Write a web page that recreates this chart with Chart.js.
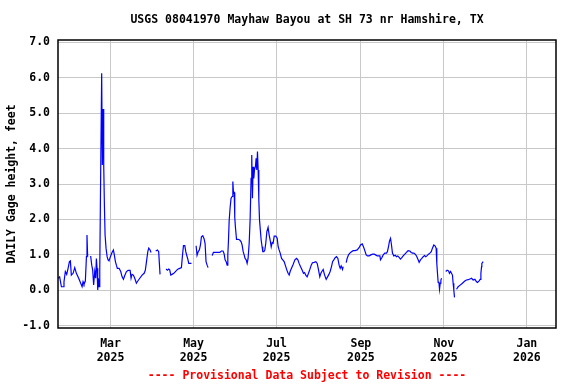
<!DOCTYPE html>
<html>
<head>
<meta charset="utf-8">
<script src="https://cdn.jsdelivr.net/npm/chart.js@4.4.1/dist/chart.umd.min.js"></script>
<style>
  html, body { margin: 0; padding: 0; background: #ffffff; }
  #wrap { width: 576px; height: 384px; }
</style>
</head>
<body>
<div id="wrap"><canvas id="gage-chart" width="576" height="384"></canvas></div>
<script>
const STATION_TITLE = "USGS 08041970 Mayhaw Bayou at SH 73 nr Hamshire, TX";
const Y_LABEL = "DAILY Gage height, feet";
const FOOTER_TEXT = "---- Provisional Data Subject to Revision ----";
const FONT = "bold 11.5px 'DejaVu Sans Mono', 'Liberation Mono', monospace";

// day of 2025 (Jan 1 = 0); a null gage value marks a gap in the record
const obsDay = [
  20.4, 21.6, 22.9, 24.1, 24.8, 25.8, 26.8, 27.8, 28.8, 29.5, 30.2, 31.5, 32.7, 33.9, 35.1, 35.9,
  38.1, 38.8, 39.5, 40.5, 41.3, 41.7, 42.2,
  43.3,
  44.4, 45.2, 45.9, 46.6, 47.4, 48.1, 48.6, 49.1, 49.6, 50.1, 50.6, 51.1, 51.8, 52.5, 53.0, 53.5,
  54.0, 54.5, 55.0, 55.7, 56.5, 57.2, 57.9, 58.9, 60.1, 61.1, 61.6, 62.6, 63.3, 64.0, 65.3, 66.5,
  67.5, 68.5, 69.4, 70.7, 71.9, 73.4, 74.1, 74.8, 75.8, 76.8, 78.0, 79.2, 80.5, 82.2, 83.7, 84.6,
  85.6, 86.4, 87.1, 88.1, 88.8,
  90.5,
  92.2, 93.5, 94.4, 94.9, 95.4,
  97.6,
  99.8, 100.8, 101.8, 102.5, 103.3, 104.2, 105.5, 106.7, 107.7, 108.7, 109.9, 111.1, 111.8, 112.6,
  113.6, 114.3, 115.0, 115.8, 116.5, 117.2, 118.5,
  120.2,
  121.9, 122.6, 123.4, 124.3, 125.1, 125.8, 126.8, 127.8, 128.5, 129.2, 130.0, 130.7,
  132.2,
  133.7, 134.6, 136.1, 138.1, 139.3, 140.5, 141.7, 142.5, 143.2, 144.0, 144.7, 145.2, 145.7, 146.2,
  146.9, 147.6, 148.4, 148.9, 149.4, 149.9, 150.3, 150.8, 151.6, 152.8, 154.0, 155.0, 155.7, 156.5,
  157.2, 157.9, 158.7, 159.4, 160.1, 160.9, 161.6, 162.3, 162.8, 163.3, 163.8, 164.3, 164.8, 165.5,
  166.0, 166.5, 167.0, 167.5, 168.0, 168.5, 169.0, 169.7, 170.4, 170.9, 171.7, 172.4, 173.1, 173.9,
  174.8, 175.6, 176.3, 177.1, 177.8, 178.5, 179.3, 180.5, 181.5, 182.2, 182.9, 183.7, 184.7, 185.6,
  186.6, 187.6, 188.6, 189.5, 190.3, 191.0, 192.0, 193.2, 194.5, 195.7, 196.7, 197.6, 198.6, 199.8,
  200.8, 201.6, 202.5, 203.5, 204.5, 205.5, 206.5, 207.4, 208.7, 209.9, 210.9, 211.9, 212.8, 213.6,
  214.3, 215.3, 216.0, 216.8, 217.5, 218.5, 219.5, 220.4, 221.4, 222.2, 223.1, 224.1, 225.1, 226.1,
  227.0, 227.8, 228.5, 229.5, 230.0,
  231.1,
  232.2, 232.9, 233.9, 234.9, 236.1, 237.3, 238.8, 240.3, 241.8, 242.7, 244.0, 244.9, 245.9, 246.9,
  247.9, 249.1, 250.3, 251.6, 252.8, 253.8, 255.0, 257.0, 257.4, 258.4, 259.4, 260.6, 261.8, 262.5,
  263.3, 264.0, 264.8, 265.5, 266.2, 267.2, 268.2, 269.2, 270.1, 271.1, 272.1, 273.1, 274.1, 275.3,
  276.5, 277.7, 279.0, 280.0, 280.9, 281.9, 282.9, 283.9, 284.9, 285.8, 286.8, 287.8, 288.8, 289.8,
  290.7, 291.7, 292.7, 293.7, 294.7, 295.6, 296.6, 297.6, 298.3, 298.8, 299.3, 299.8, 300.3, 300.8,
  301.3, 301.8, 302.3,
  303.8,
  305.4, 306.4, 307.4, 308.1, 308.9, 309.6, 310.3, 310.8, 311.3, 311.8,
  312.5,
  313.3, 314.5, 315.7, 317.0, 318.2, 319.4, 320.6, 321.9, 323.1, 324.3, 325.5, 326.8, 328.0, 328.7,
  329.7, 330.7, 331.2, 331.7, 331.9, 332.9
];

const gageFt = [
  0.34, 0.38, 0.10, 0.10, 0.24, 0.53, 0.45, 0.62, 0.81, 0.83, 0.43, 0.48, 0.64, 0.48, 0.38, 0.31,
  0.10, 0.24, 0.17, 0.26, 0.95, 1.56, 0.95,
  null,
  0.97, 0.71, 0.57, 0.15, 0.53, 0.34, 0.90, 0.62, 0.01, 0.34, 0.10, 0.62, 3.45, 6.13, 3.54, 5.12,
  3.54, 2.41, 1.56, 1.19, 0.95, 0.86, 0.83, 0.95, 1.07, 1.14, 1.04, 0.81, 0.71, 0.62, 0.62, 0.53,
  0.38, 0.31, 0.41, 0.53, 0.56, 0.56, 0.34, 0.45, 0.43, 0.34, 0.20, 0.27, 0.34, 0.43, 0.48, 0.57,
  0.86, 1.09, 1.19, 1.14, 1.07,
  null,
  1.11, 1.14, 1.09, 0.76, 0.45,
  null,
  0.60, 0.57, 0.60, 0.58, 0.43, 0.45, 0.48, 0.53, 0.57, 0.60, 0.62, 0.64, 0.95, 1.26,
  1.26, 1.09, 0.99, 0.88, 0.76, 0.76, 0.76,
  null,
  1.26, 0.99, 1.09, 1.14, 1.28, 1.51, 1.54, 1.45, 1.32, 0.81, 0.71, 0.64,
  null,
  0.98, 1.07, 1.07, 1.07, 1.07, 1.11, 1.11, 1.03, 0.86, 0.81, 0.71, 1.00, 1.42, 1.97,
  2.34, 2.60, 2.65, 3.07, 2.74, 2.76, 2.06, 1.78, 1.44, 1.44, 1.42, 1.37, 1.28, 1.09,
  1.00, 0.90, 0.86, 0.76, 0.90, 1.33, 2.00, 3.16, 3.82, 2.60, 3.49, 3.16, 3.40, 3.49,
  3.73, 3.40, 3.92, 3.40, 2.55, 1.99, 1.75, 1.42, 1.23, 1.09, 1.09, 1.14, 1.33, 1.66,
  1.78, 1.56, 1.42, 1.23, 1.35, 1.33, 1.53, 1.53, 1.47, 1.23, 1.14, 1.05, 0.90, 0.86,
  0.81, 0.69, 0.57, 0.48, 0.43, 0.53, 0.62, 0.73, 0.86, 0.90, 0.86, 0.76, 0.67, 0.57,
  0.48, 0.50, 0.43, 0.38, 0.48, 0.59, 0.71, 0.78, 0.79, 0.81, 0.76, 0.57, 0.38, 0.48,
  0.53, 0.59, 0.48, 0.38, 0.31, 0.38, 0.45, 0.53, 0.67, 0.81, 0.86, 0.92, 0.95, 0.90,
  0.71, 0.62, 0.69, 0.59, 0.67,
  null,
  0.78, 0.90, 1.00, 1.05, 1.09, 1.12, 1.12, 1.14, 1.21, 1.28, 1.31, 1.23, 1.12, 1.00,
  0.97, 0.97, 1.00, 1.02, 1.02, 1.00, 0.97, 0.97, 0.86, 0.92, 1.00, 1.05, 1.05, 1.09,
  1.23, 1.39, 1.47, 1.28, 1.05, 0.97, 0.99, 0.95, 0.97, 0.93, 0.88, 0.92, 0.97, 1.02,
  1.07, 1.12, 1.11, 1.07, 1.05, 1.05, 1.02, 0.97, 0.88, 0.79, 0.86, 0.90, 0.95, 0.98,
  0.95, 0.98, 1.02, 1.05, 1.09, 1.19, 1.28, 1.25, 1.19, 0.76, 0.48, 0.22, 0.24, 0.03,
  0.20, 0.29, 0.34,
  null,
  0.53, 0.57, 0.55, 0.48, 0.53, 0.48, 0.43, 0.20, 0.01, -0.20,
  null,
  0.03, 0.10, 0.14, 0.18, 0.22, 0.26, 0.29, 0.30, 0.32, 0.34, 0.29, 0.31, 0.24, 0.22,
  0.26, 0.31, 0.48, 0.67, 0.76, 0.81
];

// x axis: first of the month, as day of 2025
const tickDays = [59, 120, 181, 243, 304, 365];
const tickMonths = ["Mar", "May", "Jul", "Sep", "Nov", "Jan"];
const tickYears = ["2025", "2025", "2025", "2025", "2025", "2026"];
const yTicks = [-1, 0, 1, 2, 3, 4, 5, 6, 7];

const points = obsDay.map((d, i) => ({ x: d, y: gageFt[i] }));

// frame, title, axis label and footer drawn straight on the canvas
const usgsDecor = {
  id: "usgsDecor",
  afterDraw(chart) {
    const { ctx, chartArea: a } = chart;
    const midX = (a.left + a.right) / 2;
    ctx.save();
    ctx.strokeStyle = "#000000";
    ctx.lineWidth = 1.5;
    ctx.strokeRect(a.left, a.top, a.right - a.left, a.bottom - a.top);

    ctx.font = FONT;
    ctx.textAlign = "center";
    ctx.textBaseline = "middle";
    ctx.fillStyle = "#000000";
    ctx.fillText(STATION_TITLE, midX, 20);

    ctx.fillStyle = "#ff0000";
    ctx.fillText(FOOTER_TEXT, midX, 376);

    ctx.fillStyle = "#000000";
    ctx.translate(12, (a.top + a.bottom) / 2);
    ctx.rotate(-Math.PI / 2);
    ctx.fillText(Y_LABEL, 0, 0);
    ctx.restore();
  }
};

const tickFont = { family: "'DejaVu Sans Mono', 'Liberation Mono', monospace", size: 11.5, weight: "bold" };

new Chart(document.getElementById("gage-chart"), {
  type: "line",
  data: {
    datasets: [{
      data: points,
      borderColor: "#0000ff",
      borderWidth: 1.2,
      pointRadius: 0,
      tension: 0,
      spanGaps: false
    }]
  },
  options: {
    responsive: false,
    animation: false,
    devicePixelRatio: 1,
    layout: { padding: { top: 40, right: 20, left: 0, bottom: 0 } },
    plugins: { legend: { display: false }, tooltip: { enabled: false } },
    scales: {
      x: {
        type: "linear",
        min: 20.4,
        max: 386.4,
        afterBuildTicks: (scale) => { scale.ticks = tickDays.map(v => ({ value: v })); },
        afterFit: (scale) => { scale.height = 56; },
        grid: { color: "#c8c8c8", lineWidth: 1, drawTicks: false },
        border: { display: false },
        ticks: {
          autoSkip: false,
          maxRotation: 0,
          padding: 9,
          color: "#000000",
          font: tickFont,
          callback: (v, i) => [tickMonths[i], tickYears[i]]
        }
      },
      y: {
        min: -1.065,
        max: 7.07,
        afterBuildTicks: (scale) => { scale.ticks = yTicks.map(v => ({ value: v })); },
        afterFit: (scale) => { scale.width = 58; },
        grid: { color: "#c8c8c8", lineWidth: 1, drawTicks: false },
        border: { display: false },
        ticks: {
          padding: 8,
          color: "#000000",
          font: tickFont,
          callback: (v) => Number(v).toFixed(1)
        }
      }
    }
  },
  plugins: [usgsDecor]
});
</script>
</body>
</html>
